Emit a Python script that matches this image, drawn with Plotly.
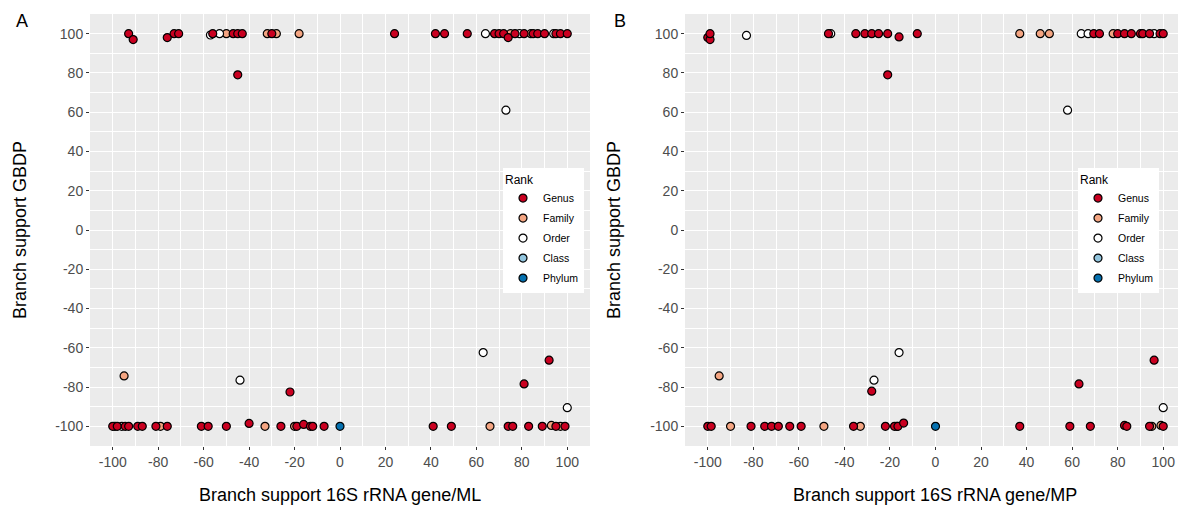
"""Branch support comparison: 16S rRNA gene trees (ML / MP) vs GBDP."""
import plotly.graph_objects as go
from plotly.subplots import make_subplots

RANKS = ["Genus", "Family", "Order", "Class", "Phylum"]
RANK_COLORS = {
    "Genus": "#CA0020",
    "Family": "#F4A582",
    "Order": "#FFFFFF",
    "Class": "#92C5DE",
    "Phylum": "#0571B0",
}
DRAW_ORDER = ["Family", "Order", "Genus", "Class", "Phylum"]

TICK_VALS = [-100, -80, -60, -40, -20, 0, 20, 40, 60, 80, 100]
TICK_TEXT = ["-100", "-80", "-60", "-40", "-20", "0", "20", "40", "60", "80", "100"]

# --- Panel A: 16S rRNA gene/ML vs GBDP ---
ml_genus_x = [-93, -91, -76, -73, -71, -56, -47, -45, -43, -45, -30, 24, 42, 46, 56,
              68, 70, 72, 74, 77, 81, 85, 87, 90, 95, 97, 100,
              -100, -98, -94.5, -93, -89, -87, -81, -76, -61, -58, -50, -40, -26, -22,
              -19, -16, -13, -12, -7, 41, 49, 74, 76, 81, 83, 89, 92, 95, 99]
ml_genus_y = [100, 97, 98, 100, 100, 100, 100, 100, 100, 79, 100, 100, 100, 100, 100,
              100, 100, 100, 98, 100, 100, 100, 100, 100, 100, 100, 100,
              -100, -100, -100, -100, -100, -100, -100, -100, -100, -100, -100, -98.5, -100, -82.5,
              -100, -99, -100, -100, -100, -100, -100, -100, -100, -78.4, -100, -100, -66.3, -100, -100]
ml_family_x = [-50, -32, -28, -18, 75, 84, -95, -79, -33, -20, 66, 93, 97]
ml_family_y = [100, 100, 100, 100, 100, 100, -74.3, -100, -100, -100, -100, -99.5, -100]
ml_order_x = [-57, -53, 64, 79, 94, 73, -99, -96, -44, 63, 100]
ml_order_y = [99.3, 100, 100, 100, 100, 61, -100, -100, -76.5, -62.4, -90.5]
ml_class_x = []
ml_class_y = []
ml_phylum_x = [0]
ml_phylum_y = [-100]

# --- Panel B: 16S rRNA gene/MP vs GBDP ---
mp_genus_x = [-100, -99, -99, -47, -35, -31, -28, -25, -21, -21, -16, -8, 69.5, 72, 80,
              83, 86, 90, 91, 94, 98.6, 100,
              -100, -98.5, -81, -75, -72, -69, -64, -59, -36, -28, -22, -18, -16.5, -14,
              37, 59, 63, 68, 83, 84, 94, 96, 100]
mp_genus_y = [98, 97, 100, 100, 100, 100, 100, 100, 100, 79, 98.3, 100, 100, 100, 100,
              100, 100, 100, 100, 100, 100, 100,
              -100, -100, -100, -100, -100, -100, -100, -100, -100, -82.1, -100, -100, -100, -98.3,
              -100, -100, -78.4, -100, -99.5, -100, -100, -66.3, -100]
mp_family_x = [37, 46, 50, 78, -95, -90, -49, -33, 95, 99]
mp_family_y = [100, 100, 100, 100, -74.3, -100, -100, -100, -100, -99.5]
mp_order_x = [-83, -46, 64, 67, 96, 58, -27, -16, 100, -17]
mp_order_y = [99.1, 100, 100, 100, 100, 61, -76.5, -62.4, -90.5, -100]
mp_class_x = []
mp_class_y = []
mp_phylum_x = [0]
mp_phylum_y = [-100]

PANELS = [
    {
        "col": 1,
        "legend": "legend",
        "data": {
            "Genus": (ml_genus_x, ml_genus_y),
            "Family": (ml_family_x, ml_family_y),
            "Order": (ml_order_x, ml_order_y),
            "Class": (ml_class_x, ml_class_y),
            "Phylum": (ml_phylum_x, ml_phylum_y),
        },
    },
    {
        "col": 2,
        "legend": "legend2",
        "data": {
            "Genus": (mp_genus_x, mp_genus_y),
            "Family": (mp_family_x, mp_family_y),
            "Order": (mp_order_x, mp_order_y),
            "Class": (mp_class_x, mp_class_y),
            "Phylum": (mp_phylum_x, mp_phylum_y),
        },
    },
]

# page body adds an 8px margin, so the figure is drawn 8px in from the window edge
OFF = 8
W, H = 1186 - OFF, 516 - OFF
FONT = "Liberation Sans, Arial, sans-serif"


def fx(px):
    return (px - OFF) / W


def fy(py):
    return 1 - (py - OFF) / H


fig = make_subplots(rows=1, cols=2)

for panel in PANELS:
    for rank in DRAW_ORDER:
        xs, ys = panel["data"][rank]
        if not xs:
            # keep the legend entry for ranks with no points
            xs, ys = [None], [None]
        fig.add_trace(
            go.Scatter(
                x=xs,
                y=ys,
                mode="markers",
                name=rank,
                legend=panel["legend"],
                legendgroup=f"{panel['legend']}_{rank}",
                legendrank=RANKS.index(rank) + 1,
                marker=dict(
                    size=8,
                    color=RANK_COLORS[rank],
                    line=dict(color="black", width=1.2),
                ),
                hoverinfo="x+y+name",
            ),
            row=1,
            col=panel["col"],
        )

axis_common = dict(
    range=[-110, 110],
    tickmode="array",
    tickvals=TICK_VALS,
    ticktext=TICK_TEXT,
    showgrid=True,
    gridcolor="white",
    gridwidth=1.1,
    zeroline=False,
    ticks="outside",
    ticklen=3,
    tickwidth=1,
    tickcolor="#333333",
    tickfont=dict(family=FONT, size=14, color="#4D4D4D"),
    showline=False,
    automargin=False,
    minor=dict(dtick=10, tick0=0, showgrid=True, gridcolor="white", gridwidth=0.5),
)

fig.update_xaxes(**axis_common)
fig.update_yaxes(**axis_common)
fig.update_layout(
    xaxis=dict(domain=[fx(90), fx(590)]),
    xaxis2=dict(domain=[fx(685), min(1.0, fx(1186))]),
    yaxis=dict(domain=[fy(446), fy(14)]),
    yaxis2=dict(domain=[fy(446), fy(14)]),
)

legend_common = dict(
    bgcolor="white",
    borderwidth=0,
    font=dict(family=FONT, size=10.5, color="black"),
    title=dict(text="Rank", font=dict(family=FONT, size=12, color="black")),
    xanchor="left",
    yanchor="top",
    tracegroupgap=1,
    itemwidth=30,
)

annotations = [
    dict(text="A", x=fx(22), y=fy(21), font=dict(size=18)),
    dict(text="B", x=fx(620), y=fy(21), font=dict(size=18)),
    dict(text="Branch support GBDP", x=fx(20), y=fy(230), textangle=-90, font=dict(size=18)),
    dict(text="Branch support GBDP", x=fx(614), y=fy(230), textangle=-90, font=dict(size=18)),
    dict(text="Branch support 16S rRNA gene/ML", x=fx(340), y=fy(495), font=dict(size=18)),
    dict(text="Branch support 16S rRNA gene/MP", x=fx(935), y=fy(495), font=dict(size=18)),
]
for a in annotations:
    a.update(xref="paper", yref="paper", showarrow=False, xanchor="center", yanchor="middle")
    a["font"].update(family=FONT, color="black")

fig.update_layout(
    width=W,
    height=H,
    margin=dict(l=0, r=0, t=0, b=0),
    paper_bgcolor="white",
    plot_bgcolor="#EBEBEB",
    font=dict(family=FONT),
    legend=dict(x=fx(503), y=fy(168), **legend_common),
    legend2=dict(x=fx(1078), y=fy(168), **legend_common),
    annotations=annotations,
    showlegend=True,
)

fig.write_html("out.html")
